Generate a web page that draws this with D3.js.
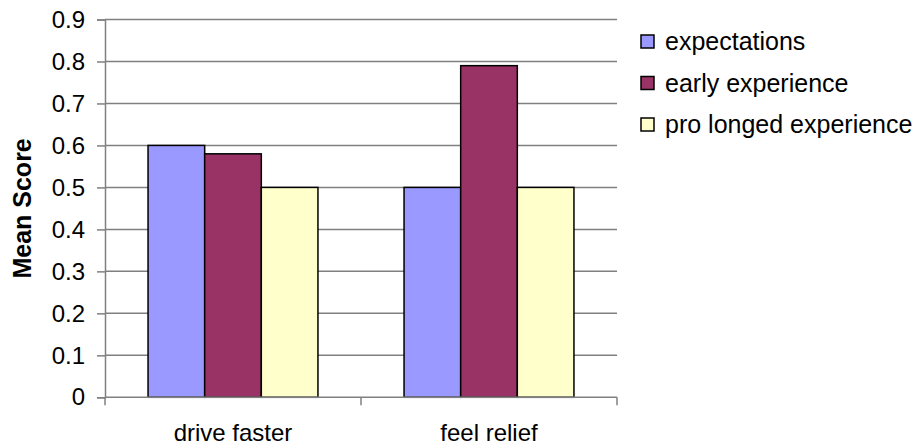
<!DOCTYPE html>
<html>
<head>
<meta charset="utf-8">
<script src="https://cdn.jsdelivr.net/npm/d3@7"></script>
<style>
  html, body { margin: 0; padding: 0; background: #fff; }
  svg { display: block; font-family: Arial, "Liberation Sans", sans-serif; }
</style>
</head>
<body>
<svg id="chart" width="919" height="447"></svg>
<script>
// Chart data
const categories = ["drive faster", "feel relief"];
const seriesNames = ["expectations", "early experience", "pro longed experience"];
const expectations = [0.6, 0.5];
const earlyExperience = [0.58, 0.79];
const prolongedExperience = [0.5, 0.5];
const yTicks = [0, 0.1, 0.2, 0.3, 0.4, 0.5, 0.6, 0.7, 0.8, 0.9];
const yTitle = "Mean Score";

const seriesValues = [expectations, earlyExperience, prolongedExperience];
const colors = ["#9999FF", "#993366", "#FFFFCC"];

const svg = d3.select("#chart");
const plot = { left: 105, right: 617, top: 19.5, bottom: 397.3 };

const x0 = d3.scaleBand().domain(categories).range([plot.left, plot.right]).padding(0);
const x1 = d3.scaleBand().domain(seriesNames).range([0, x0.bandwidth()])
  .paddingInner(0).paddingOuter(0.76);
const y = d3.scaleLinear().domain([0, 0.9]).range([plot.bottom, plot.top]);

// Horizontal gridlines
svg.append("g").selectAll("line").data(yTicks.filter(t => t > 0)).join("line")
  .attr("x1", plot.left).attr("x2", plot.right)
  .attr("y1", d => y(d)).attr("y2", d => y(d))
  .attr("stroke", "#808080").attr("stroke-width", 1.5);

// Y axis
const yAxis = svg.append("g")
  .attr("transform", `translate(${plot.left},0)`)
  .call(d3.axisLeft(y).tickValues(yTicks).tickFormat(d3.format("")).tickSize(8).tickPadding(12));
yAxis.select(".domain").attr("stroke", "#808080").attr("stroke-width", 1.5);
yAxis.selectAll(".tick line").attr("stroke", "#808080").attr("stroke-width", 1.5);
yAxis.selectAll(".tick text").attr("font-size", 24).attr("fill", "#000")
  .attr("font-family", "Arial, 'Liberation Sans', sans-serif");

// Bars
const groups = svg.append("g").selectAll("g").data(categories).join("g")
  .attr("transform", d => `translate(${x0(d)},0)`);
groups.selectAll("rect")
  .data((c, ci) => seriesNames.map((s, si) => ({ s, si, v: seriesValues[si][ci] })))
  .join("rect")
  .attr("x", d => x1(d.s))
  .attr("width", x1.bandwidth())
  .attr("y", d => y(d.v))
  .attr("height", d => y(0) - y(d.v))
  .attr("fill", d => colors[d.si])
  .attr("stroke", "#000").attr("stroke-width", 1.5);

// X axis with ticks between categories
const xAxisG = svg.append("g");
xAxisG.append("line")
  .attr("x1", plot.left).attr("x2", plot.right)
  .attr("y1", y(0)).attr("y2", y(0))
  .attr("stroke", "#808080").attr("stroke-width", 1.5);
const boundaries = [plot.left, ...categories.map(c => x0(c) + x0.bandwidth())];
xAxisG.selectAll("line.tk").data(boundaries).join("line").attr("class", "tk")
  .attr("x1", d => d).attr("x2", d => d)
  .attr("y1", y(0)).attr("y2", y(0) + 8)
  .attr("stroke", "#808080").attr("stroke-width", 1.5);
xAxisG.selectAll("text").data(categories).join("text")
  .attr("x", d => x0(d) + x0.bandwidth() / 2)
  .attr("y", 441)
  .attr("text-anchor", "middle")
  .attr("font-size", 24)
  .text(d => d);

// Y axis title
svg.append("text")
  .attr("transform", `translate(31,${(plot.top + plot.bottom) / 2}) rotate(-90)`)
  .attr("text-anchor", "middle")
  .attr("font-size", 25).attr("font-weight", "bold")
  .text(yTitle);

// Legend
const legend = svg.append("g").attr("transform", "translate(641,41.5)");
const rows = legend.selectAll("g").data(seriesNames).join("g")
  .attr("transform", (d, i) => `translate(0,${i * 41.5})`);
rows.append("rect")
  .attr("x", 0).attr("y", -6.5).attr("width", 13).attr("height", 13)
  .attr("fill", (d, i) => colors[i]).attr("stroke", "#000").attr("stroke-width", 1.5);
rows.append("text")
  .attr("x", 24).attr("y", 0).attr("dy", "0.35em")
  .attr("font-size", 25)
  .text(d => d);
</script>
</body>
</html>
